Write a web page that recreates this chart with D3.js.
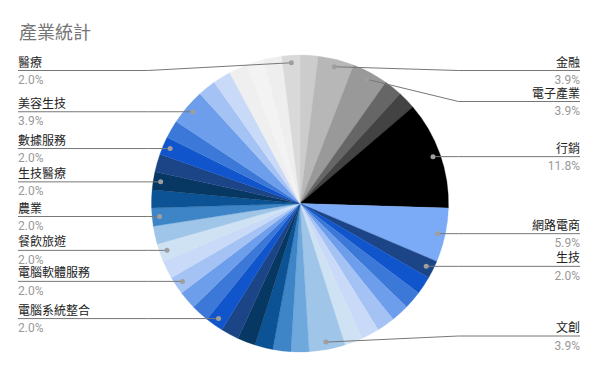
<!DOCTYPE html>
<html>
<head>
<meta charset="utf-8">
<script src="https://cdn.jsdelivr.net/npm/d3@7"></script>
<style>
  body { margin: 0; background: #fff; }
  svg { font-family: Roboto, 'Noto Sans CJK TC', sans-serif; }
</style>
</head>
<body>
<div class="chart"></div>
<script>
// 類別 (空字串 = 圖上沒有標籤的扇區)
const categories = [
  '', '金融', '電子產業', '', '', '行銷', '網路電商', '生技',
  '', '', '', '', '', '', '文創',
  '', '', '', '', '', '電腦系統整合', '', '', '電腦軟體服務', '', '餐飲旅遊',
  '', '農業', '', '生技醫療', '', '數據服務', '', '美容生技',
  '', '', '', '', '', '醫療'
];
// 家數
const counts = [
  1, 2, 2, 1, 1, 6, 3, 1,
  1, 1, 1, 1, 1, 1, 2,
  1, 1, 1, 1, 1, 1, 1, 1, 1, 1, 1,
  1, 1, 1, 1, 1, 1, 1, 2,
  1, 1, 1, 1, 1, 1
];
const colors = [
  '#cccccc', '#b7b7b7', '#999999', '#666666', '#434343', '#000000', '#7baaf7', '#1c4587',
  '#1155cc', '#3c78d8', '#6d9eeb', '#a4c2f4', '#c9daf8', '#cfe2f3', '#9fc5e8',
  '#6fa8dc', '#3d85c6', '#0b5394', '#073763', '#1c4587', '#1155cc', '#3c78d8', '#6d9eeb', '#a4c2f4', '#c9daf8', '#cfe2f3',
  '#9fc5e8', '#3d85c6', '#0b5394', '#073763', '#1c4587', '#1155cc', '#3c78d8', '#6d9eeb',
  '#a4c2f4', '#c9daf8', '#efefef', '#f3f3f3', '#eeeeee', '#d9d9d9'
];
const title = '產業統計';

const width = 600, height = 371;
const cx = 300, cy = 203.5, radius = 148.5;
const total = d3.sum(counts);

let svg = d3.select('.chart')
  .append('svg')
  .attr('width', width)
  .attr('height', height);

svg.append('text')
  .attr('x', 19)
  .attr('y', 39)
  .attr('font-size', 18)
  .attr('fill', '#757575')
  .text(title);

let data = categories.map((c, i) => ({ name: c, value: counts[i], color: colors[i] }));

let pie = d3.pie()
  .sort(null)
  .value(d => d.value);

let arc = d3.arc()
  .innerRadius(0)
  .outerRadius(radius);

let dotArc = d3.arc()
  .innerRadius(radius - 7.5)
  .outerRadius(radius - 7.5);

let arcs = pie(data);

// 扇區
let g = svg.append('g')
  .attr('transform', `translate(${cx},${cy})`);

g.selectAll('path')
  .data(arcs)
  .enter()
  .append('path')
  .attr('d', arc)
  .attr('fill', d => d.data.color)
  .attr('stroke', d => d.data.color)
  .attr('stroke-width', 0.3);

// 標籤位置
let labels = arcs.filter(d => d.data.name !== '').map(d => {
  let p = dotArc.centroid(d);
  let mid = (d.startAngle + d.endAngle) / 2;
  return {
    d: d,
    right: mid < Math.PI,
    px: cx + p[0],
    py: cy + p[1],
    ly: cy + p[1]
  };
});

const gap = 31, minY = 70.5, maxY = 336;
function layout(list) {
  list.sort((a, b) => a.py - b.py);
  for (let i = 0; i < list.length; i++) {
    let lo = i === 0 ? minY : list[i - 1].ly + gap;
    list[i].ly = Math.max(list[i].ly, lo);
  }
  for (let i = list.length - 1; i >= 0; i--) {
    let hi = i === list.length - 1 ? maxY : list[i + 1].ly - gap;
    list[i].ly = Math.min(list[i].ly, hi);
  }
}
layout(labels.filter(l => l.right));
layout(labels.filter(l => !l.right));

const leftX = 18, rightX = 580;
const leftBend = cx - radius - 4, rightBend = cx + radius + 10;

let lab = svg.append('g')
  .selectAll('g')
  .data(labels)
  .enter()
  .append('g');

lab.append('polyline')
  .attr('points', l => l.right
    ? [[rightX, l.ly], [rightBend, l.ly], [l.px, l.py]].join(' ')
    : [[leftX, l.ly], [leftBend, l.ly], [l.px, l.py]].join(' '))
  .attr('fill', 'none')
  .attr('stroke', '#777')
  .attr('stroke-width', 1);

lab.append('circle')
  .attr('cx', l => l.px)
  .attr('cy', l => l.py)
  .attr('r', 2.5)
  .attr('fill', '#9e9e9e');

lab.append('text')
  .attr('x', l => l.right ? rightX : leftX)
  .attr('y', l => l.ly - 4)
  .attr('text-anchor', l => l.right ? 'end' : 'start')
  .attr('font-size', 12)
  .attr('fill', '#222')
  .text(l => l.d.data.name);

lab.append('text')
  .attr('x', l => l.right ? rightX : leftX)
  .attr('y', l => l.ly + 13.5)
  .attr('text-anchor', l => l.right ? 'end' : 'start')
  .attr('font-size', 12)
  .attr('fill', '#999')
  .text(l => (l.d.data.value / total * 100).toFixed(1) + '%');
</script>
</body>
</html>
